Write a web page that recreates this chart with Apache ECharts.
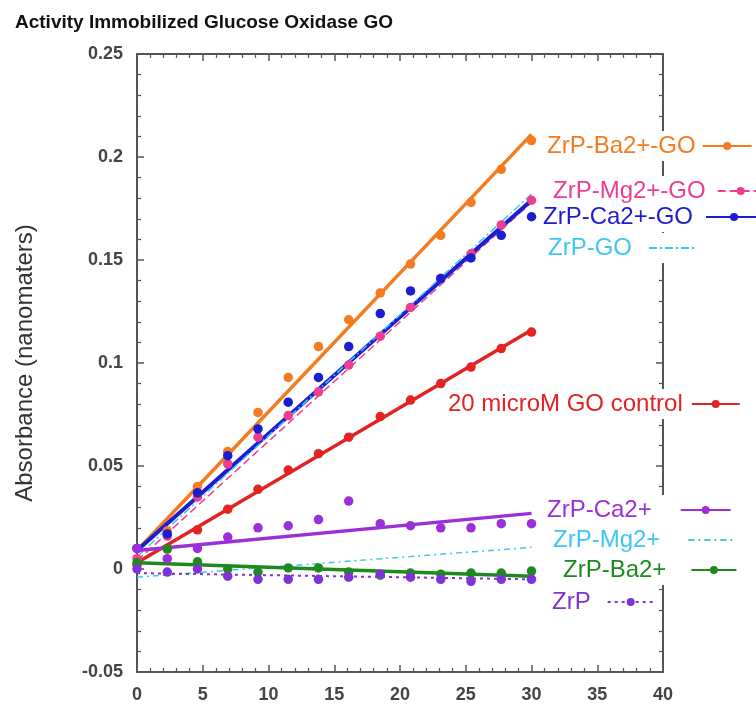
<!DOCTYPE html>
<html>
<head>
<meta charset="utf-8">
<script src="https://cdn.jsdelivr.net/npm/echarts@6/dist/echarts.min.js"></script>
<style>
html,body{margin:0;padding:0;background:#fff;}
#chart{width:756px;height:704px;}
</style>
</head>
<body>
<div id="chart"></div>
<script>
// ---- data ----
var times = [0, 2.3, 4.6, 6.9, 9.2, 11.5, 13.8, 16.1, 18.5, 20.8, 23.1, 25.4, 27.7, 30];
var fitX = [0, 30];

var names = ['ZrP-Ba2+-GO', 'ZrP-Mg2+-GO', 'ZrP-Ca2+-GO', 'ZrP-GO', '20 microM GO control',
             'ZrP-Ca2+', 'ZrP-Mg2+', 'ZrP-Ba2+', 'ZrP'];

var ptsBaGO   = [0.010, 0.0185, 0.040, 0.057, 0.076, 0.093, 0.108, 0.121, 0.134, 0.148, 0.162, 0.178, 0.194, 0.208];
var ptsMgGO   = [0.005, 0.016, 0.035, 0.051, 0.064, 0.0745, 0.086, 0.099, 0.113, 0.127, 0.141, 0.153, 0.167, 0.179];
var ptsCaGO   = [0.010, 0.017, 0.037, 0.055, 0.068, 0.081, 0.093, 0.108, 0.124, 0.135, 0.141, 0.151, 0.162, 0.171];
var ptsCtrl   = [0.002, 0.010, 0.019, 0.029, 0.0387, 0.048, 0.056, 0.064, 0.074, 0.082, 0.090, 0.098, 0.107, 0.115];
var ptsCa     = [0.010, 0.005, 0.010, 0.0155, 0.020, 0.021, 0.024, 0.033, 0.022, 0.021, 0.020, 0.020, 0.022, 0.022];
var ptsBa     = [0.003, 0.0097, 0.0035, 0.0, -0.0015, 0.0005, 0.0005, -0.0015, -0.003, -0.002, -0.0025, -0.002, -0.002, -0.001];
var ptsZrP    = [0.0, -0.0015, 0.0, -0.0035, -0.005, -0.005, -0.005, -0.004, -0.0025, -0.004, -0.005, -0.006, -0.005, -0.005];

var fitBaGO = [0.009, 0.211];
var fitMgGO = [0.004, 0.178];
var fitCaGO = [0.009, 0.179];
var fitGO   = [0.006, 0.182];
var fitCtrl = [0.003, 0.116];
var fitCa   = [0.009, 0.027];
var fitMg   = [-0.004, 0.0105];
var fitBa   = [0.003, -0.0035];
var fitZrP  = [-0.002, -0.005];

// ---- styles ----
var C = {
  orange: '#f47b20', pink: '#ef3d8f', blue: '#1c1cd0', cyan: '#3ec6f4',
  red: '#e32222', purple: '#9b30d9', green: '#1e8a1e', violet: '#7f33d6'
};

function pairs(xs, ys) { return xs.map(function (x, i) { return [x, ys[i]]; }); }

function fitSeries(name, ys, color, width, type, showMarker) {
  return {
    name: name, type: 'line', data: pairs(fitX, ys),
    symbol: 'circle', symbolSize: 9, showSymbol: false,
    itemStyle: { color: color, opacity: showMarker ? 1 : 0 },
    lineStyle: { color: color, width: width, type: type },
    z: 3, animation: false, silent: true
  };
}
function ptSeries(name, ys, color) {
  return {
    name: name + ' pts', type: 'scatter', data: pairs(times, ys),
    symbol: 'circle', symbolSize: 9.5, itemStyle: { color: color, opacity: 1 },
    z: 4, animation: false, silent: true
  };
}

var series = [
  fitSeries(names[0], fitBaGO, C.orange, 3.5, 'solid', true),
  fitSeries(names[1], fitMgGO, C.pink, 1.5, [8, 4], true),
  fitSeries(names[2], fitCaGO, C.blue, 4, 'solid', true),
  fitSeries(names[3], fitGO, C.cyan, 1.5, [8, 3, 2, 3], false),
  fitSeries(names[4], fitCtrl, C.red, 3.5, 'solid', true),
  fitSeries(names[5], fitCa, C.purple, 3.5, 'solid', true),
  fitSeries(names[6], fitMg, C.cyan, 1.5, [6, 4, 2, 4], false),
  fitSeries(names[7], fitBa, C.green, 3.5, 'solid', true),
  fitSeries(names[8], fitZrP, C.violet, 2, [3, 4], true),
  ptSeries(names[0], ptsBaGO, C.orange),
  ptSeries(names[1], ptsMgGO, C.pink),
  ptSeries(names[2], ptsCaGO, C.blue),
  ptSeries(names[4], ptsCtrl, C.red),
  ptSeries(names[5], ptsCa, C.purple),
  ptSeries(names[7], ptsBa, C.green),
  ptSeries(names[8], ptsZrP, C.violet)
];

// legend layout: [textLeft, centerY, gapTextToLine, lineWidth, color, markerShown]
var legendLayout = [
  [547, 146, 7, 49, C.orange, true],
  [553, 191, 12, 46, C.pink, true],
  [543, 217, 13, 56, C.blue, true],
  [548, 248, 17, 45, C.cyan, false],
  [448, 404, 9, 48, C.red, true],
  [547, 510, 29, 50, C.purple, true],
  [553, 540, 28, 47, C.cyan, false],
  [563, 570, 25, 45, C.green, true],
  [552, 602, 17, 46, C.violet, true]
];
var legends = legendLayout.map(function (L, i) {
  return {
    data: [names[i]], left: L[0] - 2, top: L[1] - 15, padding: [2, 2, 2, 2],
    align: 'right', orient: 'horizontal', selectedMode: false,
    itemWidth: L[3], itemHeight: 10,
    backgroundColor: '#ffffff',
    itemStyle: L[5] ? {} : { opacity: 0 },
    textStyle: { fontFamily: 'Liberation Sans', fontSize: 24, color: L[4], lineHeight: 26,
                 padding: [0, L[2] - 5, 0, 0] }
  };
});

var axisCommon = {
  axisLine: { show: true, onZero: false, lineStyle: { color: '#555', width: 2 } },
  axisTick: { show: true, inside: true, length: 7, lineStyle: { color: '#555', width: 1.5 } },
  minorTick: { show: true, splitNumber: 5, length: 4, lineStyle: { color: '#555', width: 1.2 } },
  splitLine: { show: false }, minorSplitLine: { show: false }
};
function merge(a, b) { var o = {}; for (var k in a) o[k] = a[k]; for (var k2 in b) o[k2] = b[k2]; return o; }
var labelStyle = { fontFamily: 'Liberation Sans', fontSize: 18, color: '#444', fontWeight: 'bold' };

var option = {
  backgroundColor: '#ffffff',
  animation: false,
  title: {
    text: 'Activity Immobilized Glucose Oxidase GO', left: 10, top: 8,
    textStyle: { fontFamily: 'Liberation Sans', fontSize: 19, fontWeight: 'bold', color: '#111' }
  },
  grid: { left: 137, right: 93, top: 54, bottom: 32, containLabel: false },
  legend: legends,
  xAxis: [
    merge(axisCommon, { type: 'value', min: 0, max: 40, interval: 5, position: 'bottom',
      axisLabel: merge(labelStyle, { margin: 14 }) }),
    merge(axisCommon, { type: 'value', min: 0, max: 40, interval: 5, position: 'top',
      axisLabel: { show: false } })
  ],
  yAxis: [
    merge(axisCommon, { type: 'value', min: -0.05, max: 0.25, interval: 0.05, position: 'left',
      name: 'Absorbance (nanomaters)', nameLocation: 'middle', nameGap: 100, nameRotate: 90,
      nameTextStyle: { fontFamily: 'Liberation Sans', fontSize: 24, color: '#333' },
      axisLabel: merge(labelStyle, { margin: 14 }) }),
    merge(axisCommon, { type: 'value', min: -0.05, max: 0.25, interval: 0.05, position: 'right',
      axisLabel: { show: false } })
  ],
  series: series
};

var chart = echarts.init(document.getElementById('chart'), null, { renderer: 'canvas' });
chart.setOption(option);
</script>
</body>
</html>
